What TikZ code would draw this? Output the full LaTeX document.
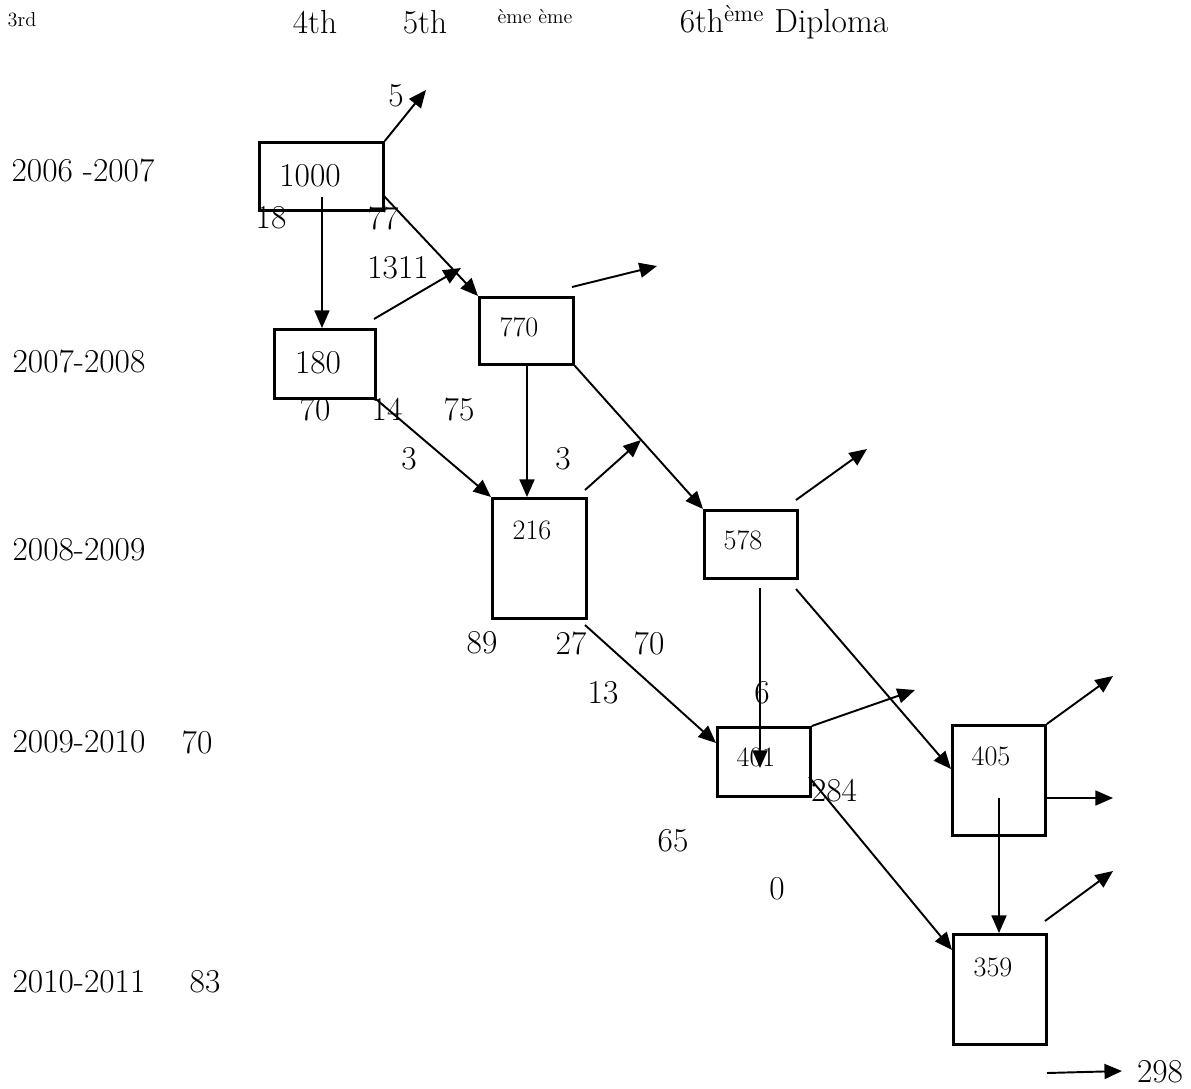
\documentclass[tikz,border=0pt]{standalone}
\usepackage{tikz}
\usetikzlibrary{arrows.meta, positioning, calc}

\begin{document}
\begin{tikzpicture}[
  x=0.02cm, y=-0.02cm,
  cohort/.style={rectangle, draw, line width=1.6pt, anchor=north west, inner sep=0pt},
  biglbl/.style={font=\fontsize{19}{21}\selectfont, inner sep=0pt},
  boxnum/.style={font=\fontsize{16}{18}\selectfont, inner sep=0pt},
  smalllbl/.style={font=\fontsize{11.5}{13}\selectfont, inner sep=0pt},
  flow/.style={-{Triangle[length=10pt, width=8.5pt]}, line width=1.1pt}
]
  \useasboundingbox (0,0) rectangle (1191,1089);

  % Header
  \node[smalllbl] (h3) at (22,20) {3rd};
  \node[biglbl] (h4) at (315,22) {4th};
  \node[biglbl] (h5) at (425,22) {5th};
  \node[smalllbl] (heme) at (535,17) {ème ème};
  \node[biglbl] (hdipl) at (784,22) {6th\textsuperscript{ème} Diploma};

  % Years
  \node[biglbl] (y1) at (83,170) {2006 -2007};
  \node[biglbl] (y2) at (79,361) {2007-2008};
  \node[biglbl] (y3) at (79,550) {2008-2009};
  \node[biglbl] (y4) at (79,742) {2009-2010};
  \node[biglbl] (y4n) at (197,742) {70};
  \node[biglbl] (y5) at (79,982) {2010-2011};
  \node[biglbl] (y5n) at (205,982) {83};

  % Cohort boxes
  \node[cohort, minimum width=2.48cm, minimum height=1.36cm] (b1000) at (258,141) {};
  \node[cohort, minimum width=2.02cm, minimum height=1.38cm] (b180) at (273,328) {};
  \node[cohort, minimum width=1.88cm, minimum height=1.34cm] (b770) at (478,296) {};
  \node[cohort, minimum width=1.88cm, minimum height=2.40cm] (b216) at (491,497) {};
  \node[cohort, minimum width=1.86cm, minimum height=1.36cm] (b578) at (703,509) {};
  \node[cohort, minimum width=1.86cm, minimum height=1.38cm] (b401) at (716,726) {};
  \node[cohort, minimum width=1.86cm, minimum height=2.20cm] (b405) at (951,724) {};
  \node[cohort, minimum width=1.86cm, minimum height=2.20cm] (b359) at (952,933) {};

  \node[biglbl] (t1000) at (310,176) {1000};
  \node[biglbl] (t180) at (318,363) {180};
  \node[boxnum] (t770) at (519,327) {770};
  \node[boxnum] (t216) at (532,530) {216};
  \node[boxnum] (t578) at (743,540) {578};
  \node[boxnum] (t401) at (756,757) {401};
  \node[boxnum] (t405) at (991,756) {405};
  \node[boxnum] (t359) at (993,967) {359};

  % Free ends
  \coordinate (o1000) at (426,90);
  \coordinate (s1000) at (322,197);
  \coordinate (r1000) at (383,195);
  \coordinate (p180) at (374,319);
  \coordinate (o180) at (461,268);
  \coordinate (p770) at (572,287);
  \coordinate (o770) at (657,266);
  \coordinate (p216) at (585,490);
  \coordinate (o216) at (641,440);
  \coordinate (p578) at (796,500);
  \coordinate (o578) at (867,449);
  \coordinate (q216) at (585,625);
  \coordinate (i401) at (716,743);
  \coordinate (s578) at (760,588);
  \coordinate (e401) at (760,768);
  \coordinate (q578) at (796,589);
  \coordinate (i405) at (951,769);
  \coordinate (o401) at (915,690);
  \coordinate (q401) at (809,777);
  \coordinate (i359) at (952,950);
  \coordinate (o405a) at (1113,676);
  \coordinate (p405) at (1044,798);
  \coordinate (o405b) at (1113,798);
  \coordinate (s405) at (999,798);
  \coordinate (p359) at (1045,921);
  \coordinate (o359) at (1113,871);
  \coordinate (p298) at (1047,1073);
  \coordinate (o298) at (1122,1071);

  % Flows
  \draw[flow] (b1000.north east) -- (o1000);
  \draw[flow] (s1000) -- (s1000 |- b180.north);
  \draw[flow] (r1000) -- (b770.north west);
  \draw[flow] (p180) -- (o180);
  \draw[flow] (p770) -- (o770);
  \draw[flow] (b770.south -| 527,0) -- (527,0 |- b216.north);
  \draw[flow] (b770.south east) -- (b578.north west);
  \draw[flow] (b180.south east) -- (b216.north west);
  \draw[flow] (p216) -- (o216);
  \draw[flow] (p578) -- (o578);
  \draw[flow] (q216) -- (i401);
  \draw[flow] (s578) -- (e401);
  \draw[flow] (q578) -- (i405);
  \draw[flow] (b401.north east) -- (o401);
  \draw[flow] (q401) -- (i359);
  \draw[flow] (b405.north east) -- (o405a);
  \draw[flow] (p405) -- (o405b);
  \draw[flow] (s405) -- (s405 |- b359.north);
  \draw[flow] (p359) -- (o359);
  \draw[flow] (p298) -- (o298);

  % Counts
  \node[biglbl] (c5) at (396,96) {5};
  \node[biglbl] (c18) at (271,218) {18};
  \node[biglbl] (c77) at (383,218) {77};
  \node[biglbl] (c1311) at (398,268) {1311};
  \node[biglbl] (c70a) at (315,409) {70};
  \node[biglbl] (c14) at (387,409) {14};
  \node[biglbl] (c75) at (459,409) {75};
  \node[biglbl] (c3a) at (409,459) {3};
  \node[biglbl] (c3b) at (563,459) {3};
  \node[biglbl] (c89) at (482,643) {89};
  \node[biglbl] (c27) at (571,643) {27};
  \node[biglbl] (c70b) at (649,643) {70};
  \node[biglbl] (c13) at (603,693) {13};
  \node[biglbl] (c6) at (762,693) {6};
  \node[biglbl] (c284) at (834,791) {284};
  \node[biglbl] (c65) at (673,841) {65};
  \node[biglbl] (c0) at (777,889) {0};
  \node[biglbl] (c298) at (1160,1072) {298};
\end{tikzpicture}
\end{document}
